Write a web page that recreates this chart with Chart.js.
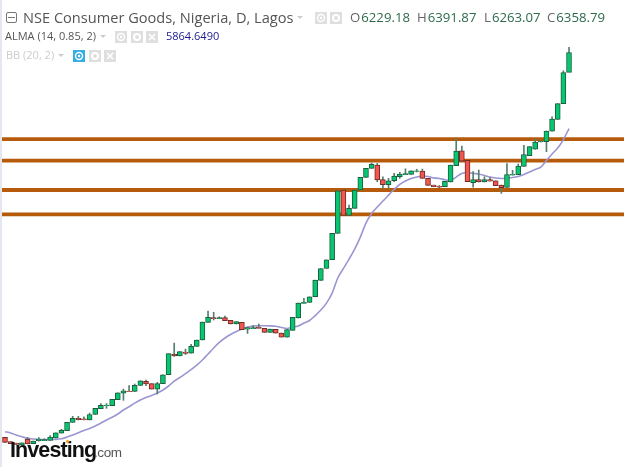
<!DOCTYPE html>
<html>
<head>
<meta charset="utf-8">
<title>NSE Consumer Goods</title>
<script src="https://cdn.jsdelivr.net/npm/chart.js@4"></script>
<style>
    html, body { margin: 0; padding: 0; background: #fff; }
    #wrap { position: relative; width: 624px; height: 467px; overflow: hidden; font-family: "Open Sans", sans-serif; }
    #chart { position: absolute; left: 0; top: 0; filter: blur(0.3px); }
    #edge { position: absolute; left: 0; top: 0; width: 2px; height: 467px; background: #e4e8ee; }
    .txt { position: absolute; white-space: nowrap; line-height: 1; }
    .ico { position: absolute; width: 12px; height: 12px; }
    .caret { position: absolute; width: 0; height: 0; border-left: 3px solid transparent; border-right: 3px solid transparent; border-top: 3px solid #ccc; }
    #title { left: 23px; top: 10px; font-size: 14.6px; color: #555; }
    .ohlc { top: 11px; font-size: 13.2px; color: #666; }
    .ohlc b { font-weight: 400; color: #2c6a4b; margin-left: 1px; }
    #alma { left: 5px; top: 30px; font-size: 11px; color: #555; }
    #almaVal { left: 166px; top: 30px; font-size: 11px; color: #1b1b8f; }
    #bb { left: 6px; top: 49px; font-size: 11px; color: #ccc; }
    #logo { left: 10px; top: 440px; font-family: "Liberation Sans", sans-serif; font-weight: 700; font-size: 21.5px; letter-spacing: -0.9px; color: #111; }
    #logoCom { left: 94px; top: 446px; font-family: "Liberation Sans", sans-serif; font-size: 13.5px; letter-spacing: -0.4px; color: #555; }
    #dot { position: absolute; left: 66px; top: 440px; width: 3px; height: 3px; background: #f5a623; transform: rotate(45deg); }
</style>
</head>
<body>
<div id="wrap">
    <canvas id="chart" width="624" height="467"></canvas>
    <div id="edge"></div>
    <div class="txt" id="title">NSE Consumer Goods, Nigeria, D, Lagos</div>
    <div class="txt ohlc" style="left:350px">O<b>6229.18</b></div>
    <div class="txt ohlc" style="left:417px">H<b>6391.87</b></div>
    <div class="txt ohlc" style="left:484px">L<b>6263.07</b></div>
    <div class="txt ohlc" style="left:547px">C<b>6358.79</b></div>
    <div class="txt" id="alma">ALMA (14, 0.85, 2)</div>
    <div class="txt" id="almaVal">5864.6490</div>
    <div class="txt" id="bb">BB (20, 2)</div>
    <div class="txt" id="logo">Investing</div>
    <div class="txt" id="logoCom">.com</div>
    <div id="dot"></div>
</div>

<script>
    // Daily candles, oldest first
    const opens = [3858, 3829, 3820, 3807, 3846, 3816, 3835, 3835, 3838, 3853, 3885, 3900, 3955, 3981, 3978, 3970, 4006, 4043, 4063, 4063, 4102, 4145, 4158, 4155, 4194, 4221, 4206, 4171, 4206, 4264, 4399, 4386, 4412, 4405, 4448, 4490, 4605, 4635, 4628, 4635, 4618, 4594, 4605, 4561, 4563, 4572, 4566, 4540, 4559, 4535, 4509, 4553, 4633, 4728, 4734, 4771, 4878, 4955, 5012, 5183, 5465, 5300, 5346, 5465, 5547, 5606, 5627, 5532, 5500, 5525, 5551, 5564, 5567, 5586, 5588, 5541, 5497, 5489, 5486, 5517, 5623, 5720, 5658, 5512, 5532, 5517, 5532, 5525, 5497, 5481, 5562, 5564, 5618, 5688, 5731, 5777, 5779, 5848, 5924, 6026, 6229.18];
    const highs = [3858, 3829, 3820, 3822, 3856, 3833, 3855, 3848, 3868, 3887, 3910, 3955, 3994, 3994, 3990, 4015, 4046, 4077, 4077, 4104, 4147, 4171, 4193, 4204, 4225, 4230, 4206, 4215, 4264, 4401, 4470, 4414, 4431, 4462, 4490, 4607, 4678, 4670, 4641, 4646, 4618, 4609, 4605, 4570, 4583, 4594, 4566, 4561, 4559, 4535, 4557, 4637, 4730, 4761, 4771, 4879, 4955, 5011, 5183, 5460, 5465, 5367, 5465, 5547, 5606, 5640, 5638, 5551, 5541, 5573, 5580, 5603, 5590, 5600, 5601, 5541, 5497, 5495, 5521, 5627, 5796, 5751, 5658, 5584, 5595, 5551, 5545, 5525, 5497, 5636, 5593, 5634, 5755, 5748, 5794, 5783, 5848, 5941, 6026, 6240, 6391.87];
    const lows = [3825, 3816, 3811, 3807, 3814, 3816, 3833, 3835, 3838, 3853, 3885, 3900, 3955, 3970, 3970, 3970, 4006, 4043, 4046, 4063, 4102, 4098, 4154, 4155, 4194, 4193, 4171, 4139, 4206, 4264, 4383, 4386, 4396, 4405, 4448, 4490, 4605, 4620, 4628, 4615, 4594, 4594, 4557, 4533, 4563, 4566, 4540, 4540, 4535, 4509, 4509, 4553, 4633, 4728, 4734, 4771, 4878, 4955, 5012, 5183, 5300, 5300, 5346, 5465, 5547, 5606, 5519, 5476, 5476, 5519, 5541, 5564, 5567, 5582, 5541, 5495, 5486, 5480, 5486, 5517, 5623, 5653, 5519, 5484, 5517, 5517, 5523, 5493, 5443, 5481, 5562, 5564, 5618, 5688, 5731, 5777, 5714, 5848, 5924, 6026, 6263.07];
    const closes = [3825, 3816, 3811, 3822, 3814, 3833, 3846, 3842, 3859, 3887, 3903, 3955, 3981, 3972, 3970, 4006, 4046, 4065, 4067, 4104, 4147, 4160, 4154, 4195, 4225, 4204, 4171, 4206, 4264, 4401, 4386, 4414, 4403, 4449, 4490, 4607, 4637, 4628, 4635, 4615, 4594, 4609, 4557, 4570, 4570, 4566, 4540, 4561, 4535, 4509, 4557, 4637, 4730, 4735, 4771, 4879, 4955, 5011, 5183, 5460, 5300, 5346, 5465, 5547, 5606, 5632, 5530, 5500, 5525, 5556, 5569, 5571, 5590, 5590, 5541, 5495, 5486, 5484, 5521, 5627, 5718, 5653, 5519, 5532, 5517, 5532, 5523, 5493, 5480, 5566, 5567, 5621, 5696, 5748, 5777, 5783, 5848, 5926, 6026, 6228, 6358.79];

    // ALMA (14, 0.85, 2), one value per candle
    const alma = [3894, 3886, 3872, 3861, 3851, 3846, 3843, 3843, 3843, 3844, 3848, 3859, 3872, 3887, 3902, 3915, 3931, 3950, 3970, 3988, 4009, 4035, 4056, 4080, 4100, 4116, 4129, 4145, 4165, 4191, 4223, 4246, 4272, 4298, 4327, 4360, 4399, 4438, 4474, 4503, 4526, 4545, 4561, 4574, 4581, 4582, 4583, 4582, 4579, 4571, 4565, 4574, 4581, 4600, 4617, 4649, 4685, 4730, 4795, 4893, 4955, 5016, 5081, 5159, 5250, 5312, 5354, 5393, 5432, 5468, 5501, 5523, 5540, 5549, 5556, 5553, 5544, 5540, 5532, 5527, 5549, 5573, 5579, 5573, 5569, 5559, 5549, 5543, 5540, 5543, 5546, 5553, 5566, 5582, 5598, 5614, 5657, 5699, 5738, 5793, 5864.649];

    // Horizontal support / resistance levels
    const levels = [5796, 5656, 5465, 5307];

    const upColor = "#06c670";
    const downColor = "#f2564e";
    const upBorder = "#1d5c3e";
    const downBorder = "#6e2a26";
    const levelColor = "#b55b0b";
    const almaColor = "#9a96d2";

    const isUp = closes.map((c, i) => c >= opens[i]);

    // Small grey toolbar buttons next to the legend rows
    function addIcon(x, y, kind, bg) {
        const drawings = {
            eye: '<circle cx="6" cy="6" r="3.5" fill="none" stroke="#fff" stroke-width="1.4"/><circle cx="6" cy="6" r="1.2" fill="#fff"/>',
            gear: '<circle cx="6" cy="6" r="3" fill="none" stroke="#fff" stroke-width="2"/>',
            cross: '<path d="M3 3L9 9M9 3L3 9" stroke="#fff" stroke-width="1.6"/>'
        };
        const svg = document.createElementNS("http://www.w3.org/2000/svg", "svg");
        svg.setAttribute("class", "ico");
        svg.setAttribute("viewBox", "0 0 12 12");
        svg.style.left = x + "px";
        svg.style.top = y + "px";
        svg.style.background = bg;
        svg.innerHTML = drawings[kind];
        document.getElementById("wrap").appendChild(svg);
    }

    function addCaret(x, y) {
        const caret = document.createElement("div");
        caret.className = "caret";
        caret.style.left = x + "px";
        caret.style.top = y + "px";
        document.getElementById("wrap").appendChild(caret);
    }

    addIcon(315, 12, "eye", "#dfdfdf");
    addIcon(330, 12, "gear", "#dfdfdf");
    addIcon(115, 31, "eye", "#dfdfdf");
    addIcon(131, 31, "gear", "#dfdfdf");
    addIcon(146, 31, "cross", "#dfdfdf");
    addIcon(73, 50, "eye", "#35aee8");
    addIcon(89, 50, "gear", "#dfdfdf");
    addIcon(104, 50, "cross", "#dfdfdf");
    addCaret(297, 16);
    addCaret(100, 35);
    addCaret(58, 54);

    // Collapse box left of the title
    const box = document.createElement("div");
    box.style.cssText = "position:absolute;left:6px;top:12px;width:9px;height:9px;border:1px solid #777;border-radius:2px;";
    box.innerHTML = '<div style="position:absolute;left:1px;top:4px;width:7px;height:1px;background:#777"></div>';
    document.getElementById("wrap").appendChild(box);

    new Chart(document.getElementById("chart").getContext("2d"), {
        type: "bar",
        data: {
            datasets: [
                ...levels.map(level => ({
                    type: "line",
                    data: [{ x: -1, y: level }, { x: 111, y: level }],
                    borderColor: levelColor,
                    borderWidth: 3.8,
                    pointRadius: 0,
                    order: 4
                })),
                {
                    type: "line",
                    label: "ALMA",
                    data: alma.map((v, i) => ({ x: i, y: v })),
                    borderColor: almaColor,
                    borderWidth: 1.6,
                    pointRadius: 0,
                    tension: 0.3,
                    order: 3
                },
                {
                    label: "Wicks",
                    data: lows.map((v, i) => ({ x: i, y: [v, highs[i]] })),
                    backgroundColor: "#55806c",
                    borderWidth: 0,
                    barThickness: 1,
                    grouped: false,
                    order: 2
                },
                {
                    label: "Bodies",
                    data: opens.map((v, i) => ({ x: i, y: [v, closes[i]] })),
                    backgroundColor: isUp.map(up => up ? upColor : downColor),
                    borderColor: isUp.map(up => up ? upBorder : downBorder),
                    borderWidth: 1,
                    borderSkipped: false,
                    barThickness: 5,
                    grouped: false,
                    order: 1
                }
            ]
        },
        options: {
            responsive: false,
            animation: false,
            layout: { padding: 0 },
            plugins: {
                legend: { display: false },
                tooltip: { enabled: false }
            },
            scales: {
                // Candle spacing and price range are fixed so the plot fills the whole frame
                x: { type: "linear", display: false, offset: false, min: -0.887, max: 109.75, grid: { display: false } },
                y: { type: "linear", display: false, min: 3664.5, max: 6700, grid: { display: false } }
            }
        }
    });
</script>
</body>
</html>
